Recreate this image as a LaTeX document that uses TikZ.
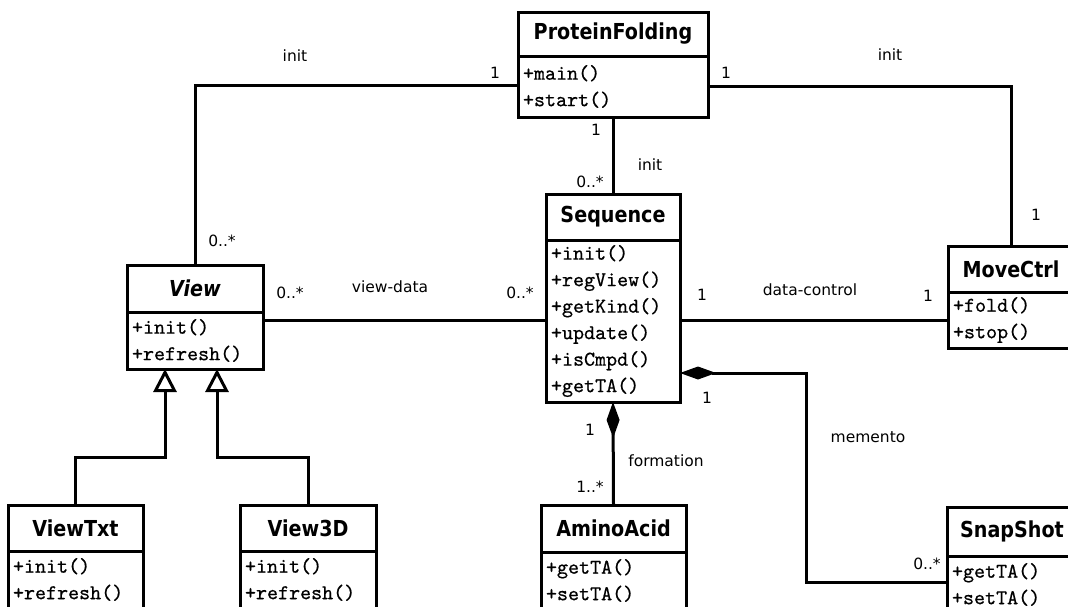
\documentclass[tikz,border=0pt]{standalone}
\usepackage{fontspec}
\usetikzlibrary{arrows.meta,calc}
\newfontfamily\lblfont{DejaVu Sans}
\newfontfamily\hdrfont[FakeStretch=0.87, BoldFont={DejaVu Sans Bold}, BoldItalicFont={DejaVu Sans Bold Oblique}]{DejaVu Sans}
\newfontfamily\methfont[FakeBold=0.6]{lmmono10-regular.otf}
\tikzset{
  ln/.style={line width=3pt},
  hdr/.style={draw, line width=3pt, inner sep=0pt, outer sep=0pt, anchor=north west,
    font=\hdrfont\fontsize{22}{26}\selectfont\bfseries},
  body/.style={draw, line width=3pt, inner xsep=5pt, inner ysep=0pt, outer sep=0pt,
    anchor=north west, align=left, font=\methfont\fontsize{21}{26.5}\selectfont},
  lbl/.style={font=\lblfont\fontsize{15.5}{18}\selectfont, inner sep=0pt},
  comp/.style={ln, {Diamond[length=36pt,width=13pt]}-},
  inh/.style={ln, -{Triangle[open, length=23pt, width=23pt, fill=white]}},
}
\begin{document}
\begin{tikzpicture}[x=1pt,y=-1pt]
\useasboundingbox (0,0) rectangle (1068,606);
\fill[white] (0,0) rectangle (1068,606);
\clip (0,0) rectangle (1068,606);

% classes
\node[hdr, minimum width=190pt, minimum height=44pt] (pfH) at (518,12) {ProteinFolding};
\node[body, text width=180pt, minimum height=61pt] (pfB) at (518,56) {+main()\\+start()};

\node[hdr, minimum width=134pt, minimum height=46pt] (seqH) at (546,194) {Sequence};
\node[body, text width=124pt, minimum height=162pt] (seqB) at (546,240)
  {+init()\\+regView()\\+getKind()\\+update()\\+isCmpd()\\+getTA()};

\node[hdr, minimum width=136pt, minimum height=47pt] (viewH) at (127,265) {\itshape View};
\node[body, text width=126pt, minimum height=57pt] (viewB) at (127,312) {+init()\\+refresh()};

\node[hdr, minimum width=126pt, minimum height=46pt] (mcH) at (948,246) {MoveCtrl};
\node[body, text width=116pt, minimum height=56pt] (mcB) at (948,292) {+fold()\\+stop()};

\node[hdr, minimum width=135pt, minimum height=46pt] (vtH) at (8,505) {ViewTxt};
\node[body, text width=125pt, minimum height=57pt] (vtB) at (8,551) {+init()\\+refresh()};

\node[hdr, minimum width=136pt, minimum height=46pt] (v3H) at (240,505) {View3D};
\node[body, text width=126pt, minimum height=57pt] (v3B) at (240,551) {+init()\\+refresh()};

\node[hdr, minimum width=145pt, minimum height=47pt] (aaH) at (541,505) {AminoAcid};
\node[body, text width=135pt, minimum height=57pt] (aaB) at (541,552) {+getTA()\\+setTA()};

\node[hdr, minimum width=130pt, minimum height=49pt] (ssH) at (947,507) {SnapShot};
\node[body, text width=120pt, minimum height=57pt] (ssB) at (947,556) {+getTA()\\+setTA()};

% connectors
\draw[ln] ([yshift=1.5pt]pfB.west) -| (viewH.north);
\draw[ln] (pfB.east) -| (mcH.north);
\draw[ln] (pfB.south) -- (seqH.north);
\coordinate (vd) at ([yshift=-8pt]viewB.north east);
\draw[ln] (vd) -- (vd -| seqB.west);
\draw[ln] (seqB.east |- mcB.west) -- (mcB.west);
\coordinate (m1) at ([yshift=29pt]seqB.south east);
\coordinate (mb) at (806,582);
\draw[comp] (m1) -| (mb) -- (mb -| ssB.west);
\draw[comp] (seqB.south) -- (aaH.north);
\coordinate (i1) at (165,457);
\coordinate (i2) at (217,457);
\draw[inh] (vtH.north) |- (i1) -- (i1 |- viewB.south);
\draw[inh] (v3H.north) |- (i2) -- (i2 |- viewB.south);

% labels
\node[lbl] (l1) at (295,56) {init};
\node[lbl] (l2) at (495,73) {1};
\node[lbl] (l3) at (726,73) {1};
\node[lbl] (l4) at (890,55) {init};
\node[lbl] (l5) at (1036,215) {1};
\node[lbl] (l6) at (222,241) {0..*};
\node[lbl] (l7) at (596,130) {1};
\node[lbl] (l8) at (650,165) {init};
\node[lbl] (l9) at (590,182) {0..*};
\node[lbl] (l10) at (290,293) {0..*};
\node[lbl] (l11) at (390,287) {view-data};
\node[lbl] (l12) at (520,293) {0..*};
\node[lbl] (l13) at (702,295) {1};
\node[lbl] (l14) at (810,290) {data-control};
\node[lbl] (l15) at (928,296) {1};
\node[lbl] (l16) at (707,398) {1};
\node[lbl] (l17) at (868,437) {memento};
\node[lbl] (l18) at (590,430) {1};
\node[lbl] (l19) at (666,461) {formation};
\node[lbl] (l20) at (590,487) {1..*};
\node[lbl] (l21) at (927,564) {0..*};
\end{tikzpicture}
\end{document}
